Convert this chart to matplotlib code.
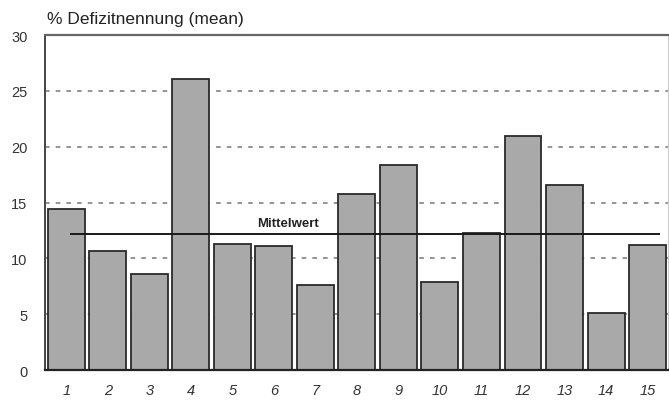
import matplotlib
matplotlib.use("Agg")
import matplotlib.pyplot as plt

plt.rcParams['font.family'] = ['Liberation Sans', 'DejaVu Sans']

# categories and mean deficit values
categories = [str(i) for i in range(1, 16)]
values = [14.4, 10.7, 8.6, 26.05, 11.3, 11.1, 7.6, 15.75,
          18.35, 7.9, 12.3, 21.0, 16.55, 5.1, 11.2]
mean_value = 12.2
y_ticks = [0, 5, 10, 15, 20, 25, 30]

fig = plt.figure(figsize=(6.69, 4.02), dpi=100)
ax = fig.add_axes([0.068, 0.077, 0.931, 0.833])

x = list(range(len(categories)))
ax.bar(x, values, width=0.89, color="#a9a9a9", edgecolor="#2a2a2a",
       linewidth=1.3, zorder=2)

ax.hlines(mean_value, 0.1, 14.3, color="#1a1a1a", linewidth=1.4, zorder=3)
ax.text(5.35, mean_value + 0.45, "Mittelwert", ha="center", va="bottom",
        fontsize=9.5, fontweight="bold", color="#222222", zorder=4)

ax.set_xlim(-0.5, 14.5)
ax.set_ylim(0, 30)
ax.set_yticks(y_ticks)
ax.set_yticklabels([str(v) for v in y_ticks], fontsize=10.5, color="#333333")
ax.set_xticks(x)
ax.set_xticklabels(categories, fontsize=10.5, style="italic", color="#333333")
ax.tick_params(axis="x", length=0, pad=9)
ax.tick_params(axis="y", length=0, pad=13)

for v in y_ticks[1:-1]:
    ax.axhline(v, color="#777777", linestyle=(0, (3, 4)), linewidth=1.1,
               zorder=1)

ax.spines["top"].set_color("#666666")
ax.spines["top"].set_linewidth(1.6)
ax.spines["right"].set_color("#cccccc")
ax.spines["left"].set_color("#444444")
ax.spines["left"].set_linewidth(1.4)
ax.spines["bottom"].set_color("#222222")
ax.spines["bottom"].set_linewidth(1.6)

fig.text(0.07, 0.932, "% Defizitnennung (mean)", fontsize=12.5,
         ha="left", va="bottom", color="#222222")

fig.savefig("out.png", dpi=100)
